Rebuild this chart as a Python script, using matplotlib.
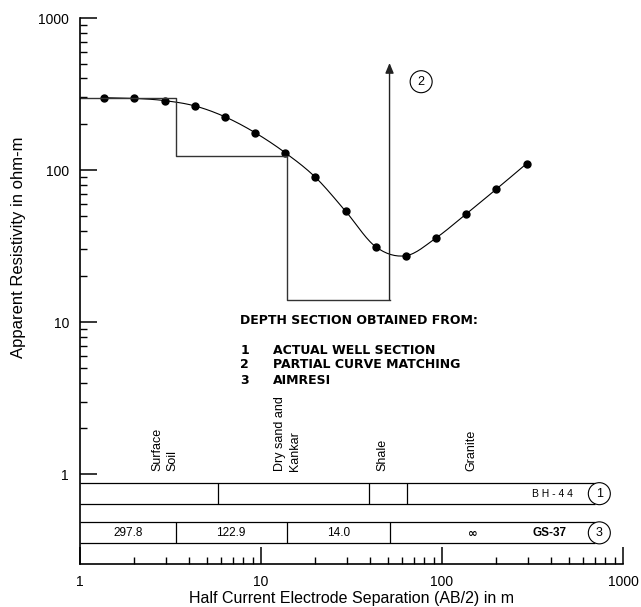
import numpy as np
import matplotlib.pyplot as plt
from matplotlib.ticker import FixedLocator, NullFormatter

plt.rcParams['font.family'] = ['Liberation Sans', 'DejaVu Sans']

# field curve (VES)
spacing = [1.36, 2.0, 2.94, 4.31, 6.32, 9.28, 13.6, 20.0, 29.3, 43.0, 63.1, 92.6, 136, 200, 293]
rho_a = [299, 296, 286, 264, 224, 176, 130, 89.5, 53.7, 31.3, 27.3, 35.7, 51.4, 75, 110]

# interpreted model (AIMRESI / partial curve matching)
model_depth = [1, 3.37, 13.9, 51.3]
model_rho = [297.8, 122.9, 14.0, 14.0]
model_labels = ['297.8', '122.9', '14.0', r'$\mathbf{\infty}$']
arrow_top = 506

# actual well section (BH-44) boundaries
well_depth = [5.79, 39.3, 64.2]
layer_names = ['Surface\nSoil', 'Dry sand and\nKankar', 'Shale', 'Granite']
layer_name_x = [2.94, 14.0, 46.9, 144.6]

legend_lines = ['ACTUAL WELL SECTION', 'PARTIAL CURVE MATCHING', 'AIMRESI']


def smooth(xs, ys, n=16):
    P = np.column_stack([np.log10(xs), np.log10(ys)])
    P = np.vstack([2 * P[0] - P[1], P, 2 * P[-1] - P[-2]])
    t = np.linspace(0, 1, n, endpoint=False)[:, None]
    out = []
    for i in range(1, len(P) - 2):
        p0, p1, p2, p3 = P[i - 1], P[i], P[i + 1], P[i + 2]
        seg = 0.5 * (2 * p1 + (-p0 + p2) * t + (2 * p0 - 5 * p1 + 4 * p2 - p3) * t ** 2
                     + (-p0 + 3 * p1 - 3 * p2 + p3) * t ** 3)
        out.append(seg)
    out.append(P[-2][None, :])
    out = np.vstack(out)
    return 10 ** out[:, 0], 10 ** out[:, 1]


fig = plt.figure(figsize=(6.41, 6.07), dpi=100)
ax = fig.add_axes([80 / 641, 1 - 564 / 607, 543 / 641, 546 / 607])
ax.set_xscale('log')
ax.set_yscale('log')
ax.set_xlim(1, 1000)
ax.set_ylim(0.256, 1000)

for s in ['top', 'right']:
    ax.spines[s].set_visible(False)
for s in ['left', 'bottom']:
    ax.spines[s].set_linewidth(1.2)

# curve
sx, sy = smooth(spacing, rho_a)
ax.plot(sx, sy, '-k', lw=0.8)
ax.plot(spacing, rho_a, 'ok', ms=5)

# step model
ax.plot(model_depth, model_rho, drawstyle='steps-post', color='#333333', lw=1.0)
ax.annotate('', xy=(model_depth[-1], arrow_top), xytext=(model_depth[-1], model_rho[-1]),
            arrowprops=dict(arrowstyle='-|>,head_length=0.6,head_width=0.25',
                            color='#222222', lw=1.0, shrinkA=0, shrinkB=0))
ax.text(76.7, 381, '2', ha='center', va='center', fontsize=9,
        bbox=dict(boxstyle='circle,pad=0.4', fc='white', ec='black', lw=0.8))

# legend text
bold = dict(fontsize=9, weight='bold', va='center', family='DejaVu Sans')
ax.text(7.63, 10.2, 'DEPTH SECTION OBTAINED FROM:', **bold)
for i, (yy, txt) in enumerate(zip([6.54, 5.29, 4.15], legend_lines)):
    ax.text(7.7, yy, str(i + 1), **bold)
    ax.text(11.65, yy, txt, **bold)

# layer names
for name, xx in zip(layer_names, layer_name_x):
    ax.text(xx, 1.05, name, rotation=90, ha='center', va='bottom',
            multialignment='left', fontsize=9, linespacing=1.35)

# bars
bar_end = 700
bars = [(0.635, 0.869), (0.35, 0.481)]
for lo, hi in bars:
    ax.hlines([lo, hi], 1, bar_end, color='black', lw=0.9)
ax.vlines(well_depth, bars[0][0], bars[0][1], color='black', lw=0.9)
ax.vlines(model_depth[1:], bars[1][0], bars[1][1], color='black', lw=0.9)

ymid_well = np.sqrt(bars[0][0] * bars[0][1])
ymid_model = np.sqrt(bars[1][0] * bars[1][1])
ax.text(406, ymid_well, 'B H - 4 4', ha='center', va='center', fontsize=7.5)
ax.text(740, ymid_well, '1', ha='center', va='center', fontsize=9, zorder=5,
        bbox=dict(boxstyle='circle,pad=0.4', fc='white', ec='black', lw=0.8))

edges = model_depth[1:] + [bar_end]
left = [1] + model_depth[1:]
for lo, hi, lab in zip(left, edges, model_labels):
    xm = np.sqrt(lo * hi) if lab != model_labels[-1] else 147
    ax.text(xm, ymid_model, lab, ha='center', va='center', fontsize=8.5)
ax.text(391, ymid_model, 'GS-37', ha='center', va='center', fontsize=8.5, weight='bold')
ax.text(740, ymid_model, '3', ha='center', va='center', fontsize=9, zorder=5,
        bbox=dict(boxstyle='circle,pad=0.4', fc='white', ec='black', lw=0.8))

# ticks
ax.xaxis.set_major_locator(FixedLocator([1, 10, 100, 1000]))
ax.set_xticklabels(['1', '10', '100', '1000'])
ax.xaxis.set_minor_locator(FixedLocator([m * d for d in [1, 10, 100] for m in range(2, 10)]))
ax.xaxis.set_minor_formatter(NullFormatter())
ax.yaxis.set_major_locator(FixedLocator([1, 10, 100, 1000]))
ax.set_yticklabels(['1', '10', '100', '1000'])
ax.yaxis.set_minor_locator(FixedLocator([m * d for d in [1, 10, 100] for m in range(2, 10)]))
ax.yaxis.set_minor_formatter(NullFormatter())
ax.tick_params(which='major', direction='in', length=12, width=1.1, labelsize=10)
ax.tick_params(which='minor', direction='in', length=5, width=1.0)
ax.tick_params(axis='x', which='major', pad=8)
ax.tick_params(axis='y', which='major', pad=8)

fig.text(351 / 641, 1 - 598 / 607, 'Half Current Electrode Separation (AB/2) in m',
         ha='center', va='center', fontsize=11.5)
fig.text(19 / 641, 1 - 247 / 607, 'Apparent Resistivity in ohm-m',
         ha='center', va='center', rotation=90, fontsize=12)

fig.savefig('out.png', dpi=100)
